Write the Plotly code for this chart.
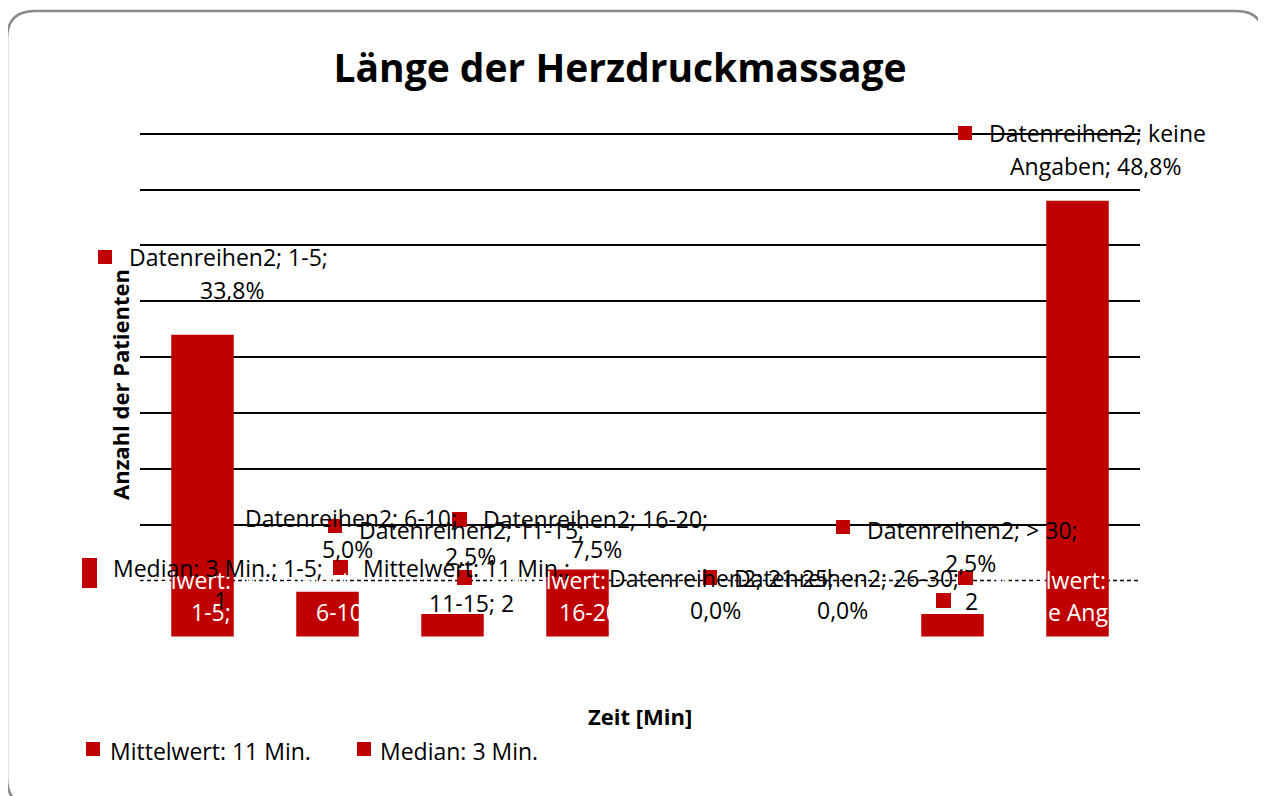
import plotly.graph_objects as go

# data
CATEGORIES = ["1-5", "6-10", "11-15", "16-20", "21-25", "26-30", "> 30", "keine Angaben"]
PATIENTS = [27, 4, 2, 6, 0, 0, 2, 39]
PERCENT = [33.8, 5.0, 2.5, 7.5, 0.0, 0.0, 2.5, 48.8]
SERIES_NAME = "Datenreihen2"
MEAN_MIN = 11
MEDIAN_MIN = 3
GRID_VALUES = [0, 10, 15, 20, 25, 30, 35, 40, 45]
DASHED_VALUE = 5

BAR_COLOR = "#C00000"
FONT = "Open Sans, Calibri, sans-serif"
SIZE = 23

# page offset of the plot div (body margin) and plot area in screen pixels
OFF = 8
FIG_W, FIG_H = 1266 - OFF, 796 - OFF
L, T, W, H = 140, 131, 1000, 506
Y_RANGE = [-0.05, 45.25]


def px(x):
    return (x - L) / W


def py(y):
    return (T + H - y) / H


def pct(v):
    return f"{v:.1f}".replace(".", ",") + "%"


fig = go.Figure()
fig.add_trace(go.Bar(x=CATEGORIES, y=PATIENTS, marker=dict(color=BAR_COLOR, line=dict(width=0)), width=0.5,
                     showlegend=False, hoverinfo="x+y"))

annotations = []
shapes = []


def text(x, y, s, anchor="left", color="black", size=SIZE):
    annotations.append(dict(x=px(x), y=py(y), xref="paper", yref="paper", text=s, showarrow=False,
                            xanchor=anchor, yanchor="middle", font=dict(family=FONT, size=size, color=color)))


def square(x0, y0, x1, y1):
    shapes.append(dict(type="rect", xref="paper", yref="paper", x0=px(x0), x1=px(x1), y0=py(y0), y1=py(y1),
                       fillcolor=BAR_COLOR, line=dict(width=0), layer="above"))


# series labels: (marker box, first line pos, second line pos)
LABEL_LAYOUT = [
    ((98, 250, 112, 264), (127, 257, "left"), (232, 290, "center")),
    ((328, 519, 342, 533), (243, 518, "left"), (347, 549, "center")),
    ((452, 512, 467, 527), (357, 530, "left"), (470, 556, "center")),
    ((577, 570, 592, 585), (481, 519, "left"), (596, 549, "center")),
    ((703, 570, 717, 585), (607, 578, "left"), (715, 610, "center")),
    ((958, 571, 973, 585), (732, 578, "left"), (842, 610, "center")),
    ((836, 520, 850, 534), (865, 530, "left"), (970, 563, "center")),
    ((958, 126, 972, 140), (987, 133, "left"), (1183, 166, "right")),
]
for i, (box, first, second) in enumerate(LABEL_LAYOUT):
    if CATEGORIES[i] == "keine Angaben":
        l1 = f"{SERIES_NAME}; keine"
        l2 = f"Angaben; {pct(PERCENT[i])}"
    else:
        l1 = f"{SERIES_NAME}; {CATEGORIES[i]};"
        l2 = pct(PERCENT[i])
    text(first[0], first[1], l1, first[2])
    text(second[0], second[1], l2, second[2])
    square(*box)

# white in-bar labels (only visible over the bars)
for i in [0, 1, 3, 7]:
    cx = L + (i + 0.5) * W / len(CATEGORIES)
    text(cx + 30, 580, "Mittelwert:", "right", "white")
    text(cx + 24, 612, f"{CATEGORIES[i]}; {PATIENTS[i]}", "center", "white")

# mean / median labels
square(82, 558, 97, 588)
text(111, 568, f"Median: {MEDIAN_MIN} Min.; {CATEGORIES[0]};")
text(220, 600, "1", "center")
square(333, 560, 348, 575)
text(361, 568, f"Mittelwert: {MEAN_MIN} Min.;")
square(457, 570, 472, 585)
text(427, 603, f"{CATEGORIES[2]}; {PATIENTS[2]}")
square(936, 593, 951, 608)
text(963, 601, f"{PATIENTS[6]}")

# axis titles
text(120, 385, "<b>Anzahl der Patienten</b>", "center", size=22)
annotations[-1]["textangle"] = -90
text(640, 716, "<b>Zeit [Min]</b>", "center", size=22)

# bottom legend
square(86, 742, 100, 756)
text(108, 751, f"Mittelwert: {MEAN_MIN} Min.")
square(357, 742, 371, 756)
text(378, 751, f"Median: {MEDIAN_MIN} Min.")

# dashed grid line
shapes.append(dict(type="line", xref="paper", yref="y", x0=0, x1=1, y0=DASHED_VALUE, y1=DASHED_VALUE,
                   line=dict(color="black", width=1.5, dash="4px,3px"), layer="below"))

# rounded outer border
r = 28
bx0, bx1, by0, by1 = 7, 1264, 11, 806
path = (f"M {px(bx0 + r)},{py(by0)} L {px(bx1 - r)},{py(by0)} Q {px(bx1)},{py(by0)} {px(bx1)},{py(by0 + r)} "
        f"L {px(bx1)},{py(by1 - r)} Q {px(bx1)},{py(by1)} {px(bx1 - r)},{py(by1)} "
        f"L {px(bx0 + r)},{py(by1)} Q {px(bx0)},{py(by1)} {px(bx0)},{py(by1 - r)} "
        f"L {px(bx0)},{py(by0 + r)} Q {px(bx0)},{py(by0)} {px(bx0 + r)},{py(by0)} Z")
shapes.append(dict(type="path", xref="paper", yref="paper", path=path, line=dict(color="#8a8a8a", width=2.5)))

fig.update_layout(
    width=FIG_W, height=FIG_H,
    paper_bgcolor="white", plot_bgcolor="white",
    margin=dict(l=L - OFF, r=1266 - L - W, t=T - OFF, b=796 - T - H),
    title=dict(text="<b>Länge der Herzdruckmassage</b>", x=(620 - OFF) / FIG_W, y=1 - (68 - OFF) / FIG_H,
               xanchor="center", yanchor="middle", font=dict(family=FONT, size=39, color="black")),
    xaxis=dict(showticklabels=False, showgrid=False, zeroline=False, showline=False, ticks=""),
    yaxis=dict(range=Y_RANGE, tickvals=GRID_VALUES, showticklabels=False, showgrid=True,
               gridcolor="black", gridwidth=1.5, zeroline=False, showline=False, ticks=""),
    annotations=annotations,
    shapes=shapes,
    showlegend=False,
)

fig.write_html("out.html")
